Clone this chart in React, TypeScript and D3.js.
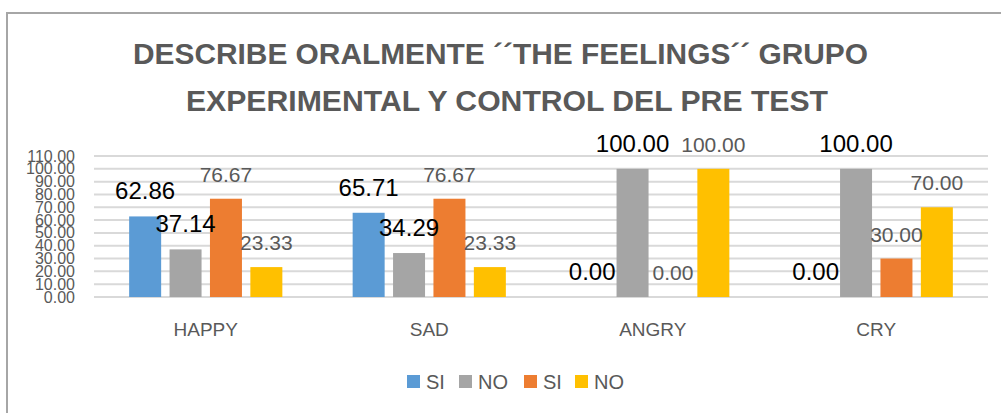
import React from "react";
import * as d3 from "d3";

const categories = ["HAPPY", "SAD", "ANGRY", "CRY"];
const seriesNames = ["SI", "NO", "SI", "NO"];
const si1 = [62.86, 65.71, 0.0, 0.0];
const no1 = [37.14, 34.29, 100.0, 100.0];
const si2 = [76.67, 76.67, 0.0, 30.0];
const no2 = [23.33, 23.33, 100.0, 70.0];
const yTicks = [0, 10, 20, 30, 40, 50, 60, 70, 80, 90, 100, 110];
const titleLines = [
  "DESCRIBE ORALMENTE ´´THE FEELINGS´´ GRUPO",
  "EXPERIMENTAL Y CONTROL DEL PRE TEST",
];

const colors = ["#5B9BD5", "#A5A5A5", "#ED7D31", "#FFC000"];
const labelStyles = [
  { fill: "#000000", size: 24 },
  { fill: "#000000", size: 24 },
  { fill: "#595959", size: 21 },
  { fill: "#595959", size: 21 },
];

export default function App() {
  const W = 1001;
  const H = 413;
  const series = [si1, no1, si2, no2];
  const x = d3.scaleBand<string>().domain(categories).range([94, 988]).padding(0);
  const inner = d3
    .scaleBand<number>()
    .domain([0, 1, 2, 3])
    .range([0, x.bandwidth()])
    .paddingInner(0.208)
    .paddingOuter(0.87);
  const y = d3.scaleLinear().domain([0, 110]).range([297, 156]);
  const font = "'Liberation Sans', Arial, sans-serif";

  const legendX = [407, 459, 524, 575];

  return (
    <svg
      width={W}
      height={H}
      style={{ position: "absolute", left: 0, top: 0, background: "#fff" }}
      fontFamily={font}
    >
      <rect x={0} y={0} width={W} height={H} fill="#fff" />
      <rect x={7} y={13} width={1100} height={500} fill="none" stroke="#A6A6A6" strokeWidth={2} />

      {/* title */}
      <text
        x={133}
        y={64}
        fontSize={29}
        fontWeight="bold"
        fill="#595959"
        textLength={735}
        lengthAdjust="spacingAndGlyphs"
      >
        {titleLines[0]}
      </text>
      <text
        x={186}
        y={111}
        fontSize={29}
        fontWeight="bold"
        fill="#595959"
        textLength={642}
        lengthAdjust="spacingAndGlyphs"
      >
        {titleLines[1]}
      </text>

      {/* gridlines */}
      {yTicks.map((t) => (
        <line
          key={"g" + t}
          x1={94}
          x2={988}
          y1={y(t)}
          y2={y(t)}
          stroke="#D9D9D9"
          strokeWidth={2}
        />
      ))}

      {/* y tick labels */}
      {yTicks.map((t) => (
        <text
          key={"t" + t}
          x={75}
          y={y(t)}
          textAnchor="end"
          dominantBaseline="central"
          fontSize={16}
          fill="#595959"
        >
          {t.toFixed(2)}
        </text>
      ))}

      {/* bars */}
      {categories.map((c, ci) =>
        series.map((s, si) => {
          const bx = (x(c) as number) + (inner(si) as number);
          const v = s[ci];
          return (
            <rect
              key={c + si}
              x={bx}
              y={y(v)}
              width={inner.bandwidth()}
              height={y(0) - y(v)}
              fill={colors[si]}
            />
          );
        })
      )}

      {/* data labels */}
      {categories.map((c, ci) =>
        series.map((s, si) => {
          const bx = (x(c) as number) + (inner(si) as number) + inner.bandwidth() / 2;
          const v = s[ci];
          return (
            <text
              key={"l" + c + si}
              x={bx}
              y={y(v) - 17}
              textAnchor="middle"
              fontSize={labelStyles[si].size}
              fill={labelStyles[si].fill}
            >
              {v.toFixed(2)}
            </text>
          );
        })
      )}

      {/* category labels */}
      {categories.map((c) => (
        <text
          key={"c" + c}
          x={(x(c) as number) + x.bandwidth() / 2}
          y={336}
          textAnchor="middle"
          fontSize={19}
          fill="#595959"
        >
          {c}
        </text>
      ))}

      {/* legend */}
      {seriesNames.map((n, i) => (
        <g key={"lg" + i}>
          <rect x={legendX[i]} y={375} width={13} height={13} fill={colors[i]} />
          <text x={legendX[i] + 19} y={389} fontSize={20} fill="#595959">
            {n}
          </text>
        </g>
      ))}
    </svg>
  );
}
